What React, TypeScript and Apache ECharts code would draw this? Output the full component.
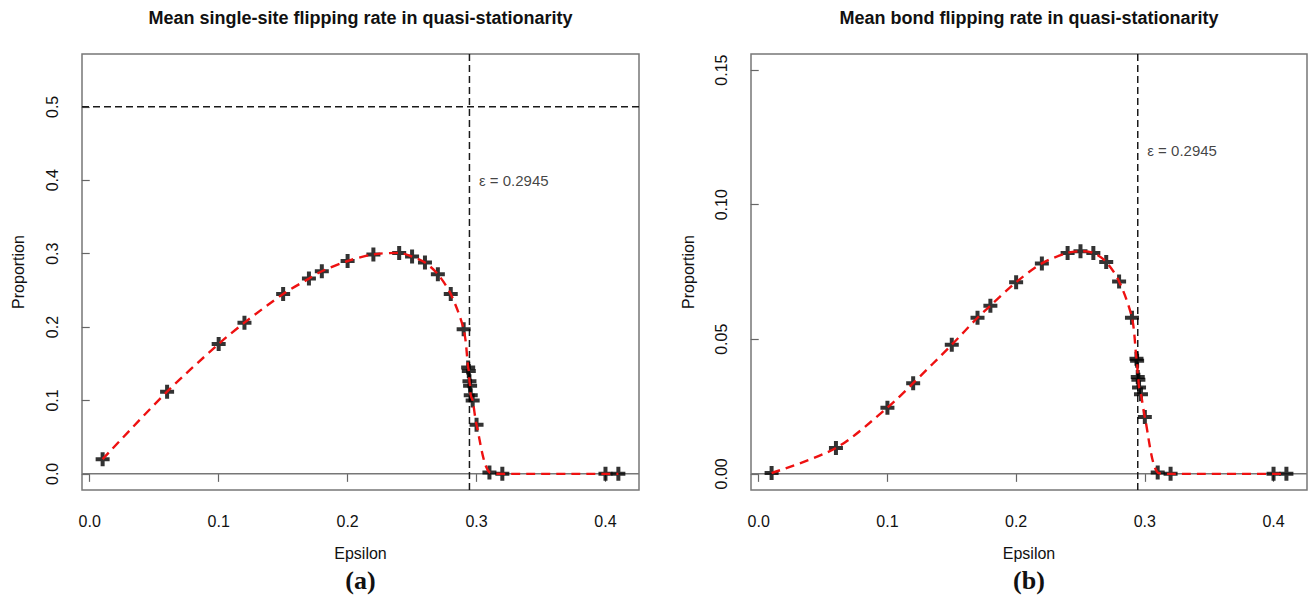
import React, { useEffect, useRef } from 'react';
import * as echarts from 'echarts';

const epsilon = [
  0.01, 0.06, 0.1, 0.12, 0.15, 0.17, 0.18, 0.2, 0.22, 0.24, 0.25, 0.26, 0.27, 0.28, 0.29,
  0.2935, 0.294, 0.2945, 0.295, 0.2955, 0.297, 0.3, 0.31, 0.32, 0.4, 0.41,
];
const siteRate = [
  0.02, 0.112, 0.177, 0.206, 0.245, 0.266, 0.276, 0.29, 0.299, 0.301, 0.296, 0.288, 0.272, 0.245, 0.197,
  0.145, 0.14, 0.126, 0.12, 0.107, 0.1, 0.067, 0.002, 0.0, 0.0, 0.0,
];
const bondRate = [
  0.0003, 0.0096, 0.0246, 0.0337, 0.048, 0.058, 0.0625, 0.0712, 0.0782, 0.0821, 0.0827, 0.0821, 0.0787, 0.0715, 0.058,
  0.0428, 0.042, 0.036, 0.035, 0.0321, 0.0296, 0.0211, 0.0005, 0.0, 0.0, 0.0,
];
const xLimits = [-0.006, 0.426];
const siteYLimits = [-0.022, 0.572];
const bondYLimits = [-0.006, 0.156];
const xTicks = [0, 0.1, 0.2, 0.3, 0.4];
const siteYTicks = [0, 0.1, 0.2, 0.3, 0.4, 0.5];
const bondYTicks = [0, 0.05, 0.1, 0.15];
const threshold = 0.2945;
const siteReference = 0.5;
const thresholdLabelY = [0.4, 0.12];
const titles = [
  'Mean single-site flipping rate in quasi-stationarity',
  'Mean bond flipping rate in quasi-stationarity',
];
const panelTags = ['(a)', '(b)'];
const xName = 'Epsilon';
const yName = 'Proportion';

const PLUS = 'path://M5,0H9V5H14V9H9V14H5V9H0V5H5Z';
const SANS = '"Liberation Sans", Arial, Helvetica, sans-serif';
const SERIF = '"Liberation Serif", "Times New Roman", serif';

const grids = [
  { left: 82, top: 54, width: 557, height: 436 },
  { left: 751, top: 54, width: 556, height: 436 },
];

function xAxisFor(i: number) {
  return {
    type: 'value',
    gridIndex: i,
    min: xLimits[0],
    max: xLimits[1],
    axisLine: { show: false },
    splitLine: { show: false },
    axisTick: {
      show: true,
      inside: false,
      length: 8,
      lineStyle: { color: '#666', width: 1.2 },
      customValues: xTicks,
    },
    axisLabel: {
      customValues: xTicks,
      formatter: (v: number) => v.toFixed(1),
      margin: 23,
      fontSize: 16,
      color: '#111',
      fontFamily: SANS,
    },
  };
}

function yAxisFor(i: number, lim: number[], ticks: number[], digits: number) {
  return {
    type: 'value',
    gridIndex: i,
    min: lim[0],
    max: lim[1],
    axisLine: { show: false },
    splitLine: { show: false },
    axisTick: {
      show: true,
      inside: false,
      length: 8,
      lineStyle: { color: '#666', width: 1.2 },
      customValues: ticks,
    },
    axisLabel: {
      customValues: ticks,
      formatter: (v: number) => v.toFixed(digits),
      rotate: 90,
      margin: 22,
      fontSize: 16,
      color: '#111',
      fontFamily: SANS,
    },
  };
}

function refLine(i: number, data: number[][], color: string, type: any, z: number) {
  return {
    type: 'line',
    xAxisIndex: i,
    yAxisIndex: i,
    data,
    showSymbol: false,
    silent: true,
    lineStyle: { color, width: 1.5, type },
    z,
  };
}

function panelSeries(i: number, values: number[], yLim: number[], extra: any[]) {
  const pts = epsilon.map((e, k) => [e, values[k]]);
  return [
    refLine(i, [[xLimits[0], 0], [xLimits[1], 0]], '#777', 'solid', 1),
    refLine(i, [[threshold, yLim[0]], [threshold, yLim[1]]], '#1a1a1a', [7, 4], 1),
    ...extra,
    {
      type: 'scatter',
      xAxisIndex: i,
      yAxisIndex: i,
      data: pts,
      symbol: PLUS,
      symbolSize: 14,
      itemStyle: { color: '#000' },
      z: 2,
    },
    {
      type: 'line',
      xAxisIndex: i,
      yAxisIndex: i,
      data: pts,
      showSymbol: false,
      smooth: 0.3,
      lineStyle: { color: '#ee1111', width: 2.4, type: [9, 6] },
      z: 3,
    },
    {
      type: 'scatter',
      xAxisIndex: i,
      yAxisIndex: i,
      data: [[threshold, thresholdLabelY[i]]],
      symbolSize: 1,
      itemStyle: { color: 'rgba(0,0,0,0)' },
      label: {
        show: true,
        position: 'right',
        distance: 9,
        formatter: () => `ε = ${threshold}`,
        fontSize: 15,
        color: '#111',
        fontFamily: SANS,
      },
      z: 4,
    },
  ];
}

function textEl(text: string, x: number, y: number, font: string, size: number, weight: string, rotation = 0) {
  return {
    type: 'text',
    x,
    y,
    rotation,
    style: {
      text,
      font: `${weight} ${size}px ${font}`,
      fill: '#111',
      textAlign: 'center',
      textVerticalAlign: 'middle',
    },
  };
}

export default function App() {
  const ref = useRef<HTMLDivElement>(null);
  useEffect(() => {
    if (!ref.current) return;
    const chart = echarts.init(ref.current, undefined, { renderer: 'svg' });
    const centers = grids.map((g) => g.left + g.width / 2);
    chart.setOption({
      animation: false,
      backgroundColor: '#fff',
      grid: grids.map((g) => ({
        ...g,
        show: true,
        borderColor: '#777',
        borderWidth: 1.5,
        backgroundColor: 'transparent',
      })),
      xAxis: [xAxisFor(0), xAxisFor(1)],
      yAxis: [
        yAxisFor(0, siteYLimits, siteYTicks, 1),
        yAxisFor(1, bondYLimits, bondYTicks, 2),
      ],
      series: [
        ...panelSeries(0, siteRate, siteYLimits, [
          refLine(0, [[xLimits[0], siteReference], [xLimits[1], siteReference]], '#1a1a1a', [7, 4], 1),
        ]),
        ...panelSeries(1, bondRate, bondYLimits, []),
      ],
      graphic: [
        textEl(titles[0], centers[0], 18, SANS, 18, 'bold'),
        textEl(titles[1], centers[1], 18, SANS, 18, 'bold'),
        textEl(yName, 18, 272, SANS, 16, 'normal', Math.PI / 2),
        textEl(yName, 688, 272, SANS, 16, 'normal', Math.PI / 2),
        textEl(xName, centers[0], 553, SANS, 16, 'normal'),
        textEl(xName, centers[1], 553, SANS, 16, 'normal'),
        textEl(panelTags[0], centers[0], 580, SERIF, 26, 'bold'),
        textEl(panelTags[1], centers[1], 580, SERIF, 26, 'bold'),
      ],
    });
    return () => chart.dispose();
  }, []);
  return (
    <div
      ref={ref}
      style={{ position: 'fixed', left: 0, top: 0, width: 1309, height: 598, background: '#fff' }}
    />
  );
}
